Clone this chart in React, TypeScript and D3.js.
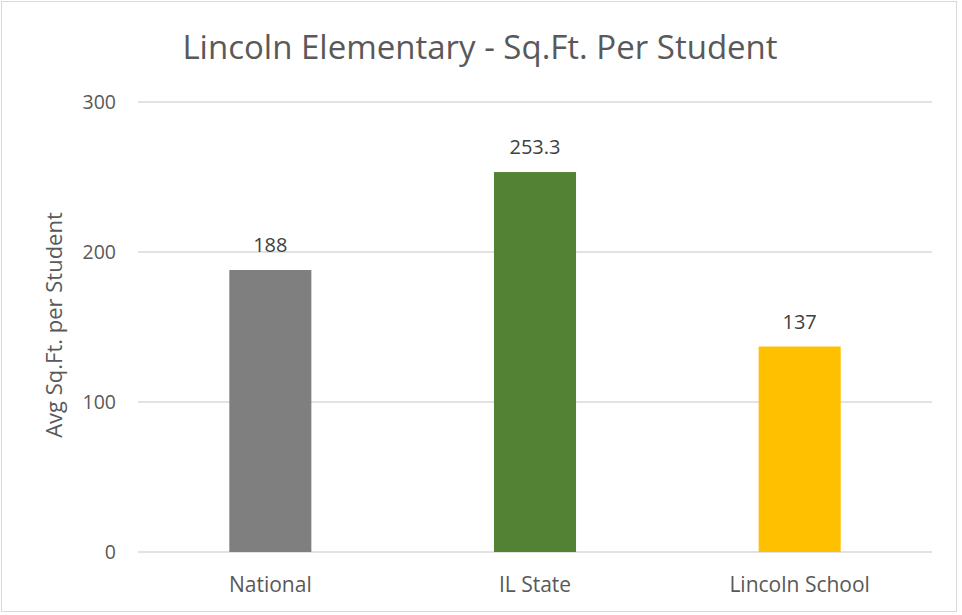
import { scaleBand, scaleLinear } from 'd3'

const categories = ['National', 'IL State', 'Lincoln School']
const values = [188, 253.3, 137]
const valueLabels = ['188', '253.3', '137']
const barColors = ['#7f7f7f', '#548235', '#ffc000']
const yTickValues = [0, 100, 200, 300]

const chartTitle = 'Lincoln Elementary - Sq.Ft. Per Student'
const yAxisTitle = 'Avg Sq.Ft. per Student'

const FONT = '"Open Sans", "Noto Sans", sans-serif'

export default function App() {
  const width = 962
  const height = 615
  const plot = { left: 138, right: 932, top: 102, bottom: 552 }

  const x = scaleBand()
    .domain(categories)
    .range([plot.left, plot.right])
    .paddingInner(0.69)
    .paddingOuter(0.345)

  const y = scaleLinear().domain([0, 300]).range([plot.bottom, plot.top])

  return (
    <div style={{ position: 'fixed', left: 0, top: 0 }}>
      <svg width={width} height={height} style={{ display: 'block', fontFamily: FONT }}>
        <rect x={0} y={0} width={width} height={height} fill="#fff" />
        <rect x={1.5} y={1.5} width={955} height={610} fill="none" stroke="#d9d9d9" strokeWidth={1} />

        <text x={480} y={59} textAnchor="middle" fontSize={33} fill="#595959">
          {chartTitle}
        </text>

        {yTickValues.map((t) => (
          <g key={t}>
            <line x1={plot.left} x2={plot.right} y1={y(t)} y2={y(t)} stroke="#d9d9d9" strokeWidth={1.5} />
            <text x={116} y={y(t) + 7} textAnchor="end" fontSize={19.5} fill="#595959">
              {t}
            </text>
          </g>
        ))}

        <text
          transform={`translate(62,325) rotate(-90)`}
          textAnchor="middle"
          fontSize={22}
          fill="#595959"
        >
          {yAxisTitle}
        </text>

        {categories.map((c, i) => (
          <g key={c}>
            <rect
              x={x(c) ?? 0}
              y={y(values[i])}
              width={x.bandwidth()}
              height={plot.bottom - y(values[i])}
              fill={barColors[i]}
            />
            <text
              x={(x(c) ?? 0) + x.bandwidth() / 2}
              y={y(values[i]) - 18}
              textAnchor="middle"
              fontSize={20}
              fill="#404040"
            >
              {valueLabels[i]}
            </text>
            <text
              x={(x(c) ?? 0) + x.bandwidth() / 2}
              y={592}
              textAnchor="middle"
              fontSize={21}
              fill="#595959"
            >
              {c}
            </text>
          </g>
        ))}
      </svg>
    </div>
  )
}
